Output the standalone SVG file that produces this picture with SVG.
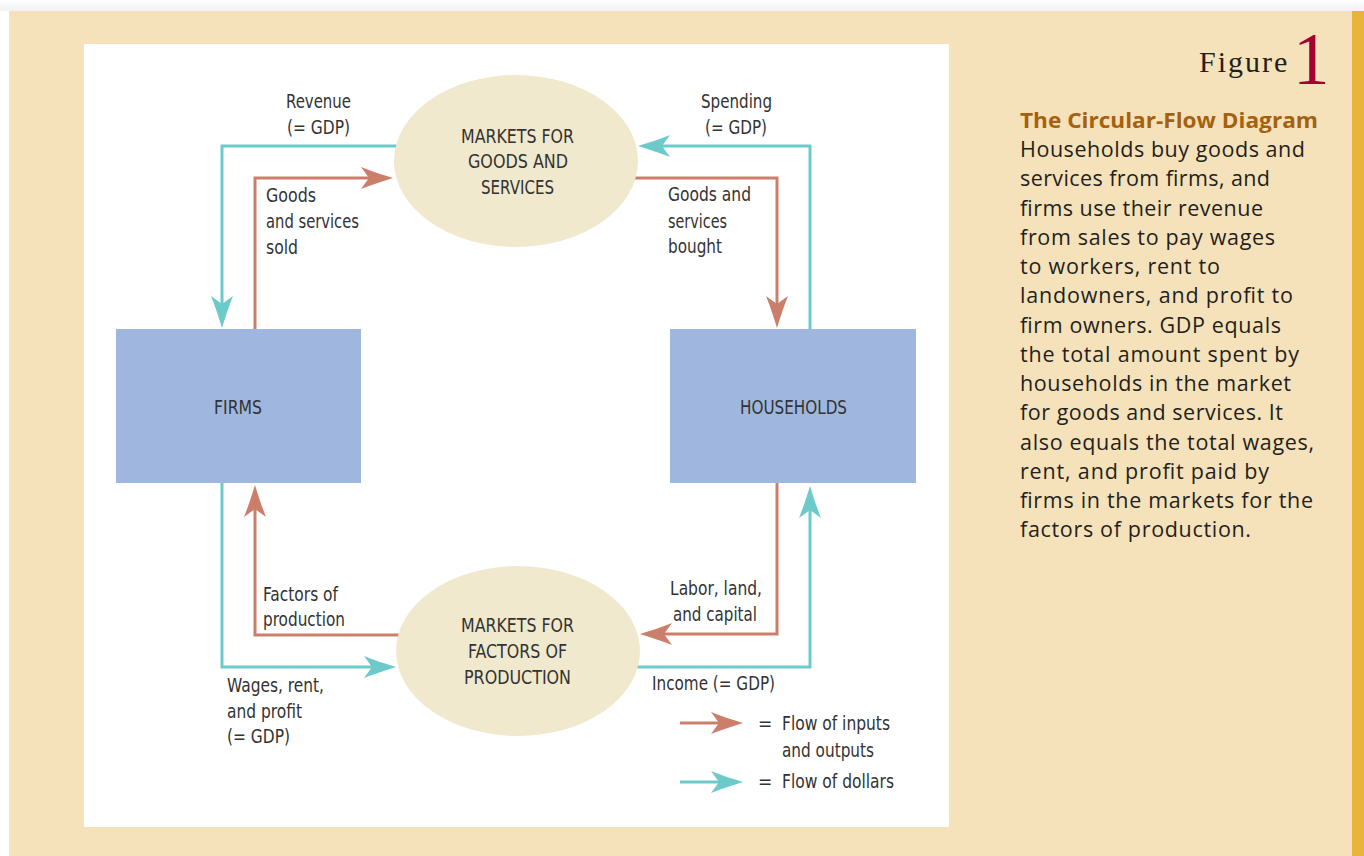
<svg xmlns="http://www.w3.org/2000/svg" width="1364" height="856" viewBox="0 0 1364 856">
<defs>
<linearGradient id="topShade" x1="0" y1="0" x2="0" y2="1">
<stop offset="0" stop-color="#ffffff"/>
<stop offset="1" stop-color="#f2f2f2"/>
</linearGradient>
<marker id="arrS" markerUnits="userSpaceOnUse" markerWidth="34" markerHeight="24" refX="12" refY="11" orient="auto" overflow="visible">
<path d="M32,11 C22,8 10,4 0,0 L8,11 L0,22 C10,18 22,14 32,11 Z" fill="#CB7F6A"/>
</marker>
<marker id="arrT" markerUnits="userSpaceOnUse" markerWidth="34" markerHeight="24" refX="12" refY="11" orient="auto" overflow="visible">
<path d="M32,11 C22,8 10,4 0,0 L8,11 L0,22 C10,18 22,14 32,11 Z" fill="#6CCACB"/>
</marker>
<style>
.lbl{font-family:"DejaVu Sans Condensed","Liberation Sans",sans-serif;font-size:19px;fill:#333333}
.mid{text-anchor:middle}
.box{fill:#9FB7DE}
.mkt{fill:#F0E9CE}
.sal{fill:none;stroke:#CB7F6A;stroke-width:3;marker-end:url(#arrS)}
.teal{fill:none;stroke:#6CCACB;stroke-width:3;marker-end:url(#arrT)}
.body{font-family:"Open Sans","Noto Sans","Liberation Sans",sans-serif;font-size:21.5px;fill:#231F20}
.title{font-family:"Open Sans","Noto Sans","Liberation Sans",sans-serif;font-size:21.5px;font-weight:bold;fill:#A5610F}
</style>
</defs>
<rect x="0" y="0" width="1364" height="856" fill="#ffffff"/>
<rect x="0" y="0" width="1364" height="11" fill="url(#topShade)"/>
<rect x="9" y="11" width="1343" height="845" fill="#F6E2BA"/>
<rect x="1352" y="11" width="12" height="845" fill="#E8B43C"/>
<rect x="84" y="44" width="865" height="783" fill="#ffffff"/>

<g id="connectors">
<path class="teal" d="M400,146 H222 V308"/>
<path class="sal" d="M255,329 V178 H373"/>
<path class="teal" d="M810,329 V146 H658"/>
<path class="sal" d="M634,178 H777 V308"/>
<path class="sal" d="M400,635 H255 V505"/>
<path class="teal" d="M222,483 V667 H376"/>
<path class="sal" d="M777,483 V634 H660"/>
<path class="teal" d="M636,667 H810 V506"/>
<path class="sal" d="M680,723 H723"/>
<path class="teal" d="M680,782 H723"/>
</g>

<g id="firms">
<rect class="box" x="116" y="329" width="245" height="154"/>
<text class="lbl" x="214" y="414" textLength="48" lengthAdjust="spacingAndGlyphs">FIRMS</text>
</g>
<g id="households">
<rect class="box" x="670" y="329" width="246" height="154"/>
<text class="lbl" x="740" y="414" textLength="107" lengthAdjust="spacingAndGlyphs">HOUSEHOLDS</text>
</g>
<g id="goods-market">
<ellipse class="mkt" cx="516" cy="161" rx="122" ry="86"/>
<text class="lbl" x="461" y="143" textLength="113" lengthAdjust="spacingAndGlyphs">MARKETS FOR</text>
<text class="lbl" x="468" y="168" textLength="100" lengthAdjust="spacingAndGlyphs">GOODS AND</text>
<text class="lbl" x="481" y="194" textLength="73" lengthAdjust="spacingAndGlyphs">SERVICES</text>
</g>
<g id="factor-market">
<ellipse class="mkt" cx="518" cy="651" rx="122" ry="85"/>
<text class="lbl" x="461" y="632" textLength="113" lengthAdjust="spacingAndGlyphs">MARKETS FOR</text>
<text class="lbl" x="468" y="658" textLength="99" lengthAdjust="spacingAndGlyphs">FACTORS OF</text>
<text class="lbl" x="464" y="684" textLength="107" lengthAdjust="spacingAndGlyphs">PRODUCTION</text>
</g>

<g id="labels">
<text class="lbl" x="286" y="108" textLength="65" lengthAdjust="spacingAndGlyphs">Revenue</text>
<text class="lbl" x="287" y="134" textLength="63" lengthAdjust="spacingAndGlyphs">(= GDP)</text>
<text class="lbl" x="266" y="202" textLength="50" lengthAdjust="spacingAndGlyphs">Goods</text>
<text class="lbl" x="266" y="228" textLength="93" lengthAdjust="spacingAndGlyphs">and services</text>
<text class="lbl" x="266" y="254" textLength="32" lengthAdjust="spacingAndGlyphs">sold</text>
<text class="lbl" x="701" y="108" textLength="71" lengthAdjust="spacingAndGlyphs">Spending</text>
<text class="lbl" x="705" y="134" textLength="62" lengthAdjust="spacingAndGlyphs">(= GDP)</text>
<text class="lbl" x="668" y="201" textLength="83" lengthAdjust="spacingAndGlyphs">Goods and</text>
<text class="lbl" x="668" y="228" textLength="59" lengthAdjust="spacingAndGlyphs">services</text>
<text class="lbl" x="668" y="253" textLength="54" lengthAdjust="spacingAndGlyphs">bought</text>
<text class="lbl" x="263" y="601" textLength="75" lengthAdjust="spacingAndGlyphs">Factors of</text>
<text class="lbl" x="263" y="626" textLength="82" lengthAdjust="spacingAndGlyphs">production</text>
<text class="lbl" x="227" y="692" textLength="97" lengthAdjust="spacingAndGlyphs">Wages, rent,</text>
<text class="lbl" x="227" y="718" textLength="75" lengthAdjust="spacingAndGlyphs">and profit</text>
<text class="lbl" x="227" y="743" textLength="63" lengthAdjust="spacingAndGlyphs">(= GDP)</text>
<text class="lbl" x="670" y="595" textLength="92" lengthAdjust="spacingAndGlyphs">Labor, land,</text>
<text class="lbl" x="673" y="621" textLength="84" lengthAdjust="spacingAndGlyphs">and capital</text>
<text class="lbl" x="652" y="690" textLength="123" lengthAdjust="spacingAndGlyphs">Income (= GDP)</text>
</g>

<g id="legend">
<text class="lbl" x="758" y="730">=</text>
<text class="lbl" x="782" y="730" textLength="108" lengthAdjust="spacingAndGlyphs">Flow of inputs</text>
<text class="lbl" x="782" y="757" textLength="92" lengthAdjust="spacingAndGlyphs">and outputs</text>
<text class="lbl" x="758" y="788">=</text>
<text class="lbl" x="782" y="788" textLength="112" lengthAdjust="spacingAndGlyphs">Flow of dollars</text>
</g>

<g id="caption">
<text x="1199" y="72" font-family="Liberation Serif, serif" font-size="30" letter-spacing="2" fill="#231F20">Figure</text>
<text x="1293" y="84" font-family="Liberation Serif, serif" font-size="73" fill="#A3002F">1</text>
<text class="title" x="1020" y="128" textLength="298" lengthAdjust="spacingAndGlyphs">The Circular-Flow Diagram</text>
<text class="body" x="1020" y="157" textLength="285">Households buy goods and</text>
<text class="body" x="1020" y="186.3" textLength="250">services from firms, and</text>
<text class="body" x="1020" y="215.5" textLength="243">firms use their revenue</text>
<text class="body" x="1020" y="244.8" textLength="255">from sales to pay wages</text>
<text class="body" x="1020" y="274" textLength="200">to workers, rent to</text>
<text class="body" x="1020" y="303.3" textLength="273">landowners, and profit to</text>
<text class="body" x="1020" y="332.5" textLength="261">firm owners. GDP equals</text>
<text class="body" x="1020" y="361.8" textLength="279">the total amount spent by</text>
<text class="body" x="1020" y="391" textLength="271">households in the market</text>
<text class="body" x="1020" y="420.3" textLength="263">for goods and services. It</text>
<text class="body" x="1020" y="449.5" textLength="294">also equals the total wages,</text>
<text class="body" x="1020" y="478.8" textLength="249">rent, and profit paid by</text>
<text class="body" x="1020" y="508" textLength="293">firms in the markets for the</text>
<text class="body" x="1020" y="537.3" textLength="231">factors of production.</text>
</g>
</svg>
